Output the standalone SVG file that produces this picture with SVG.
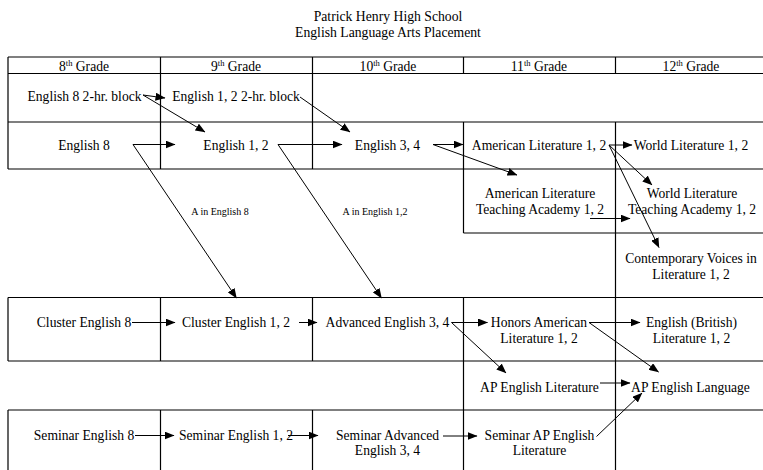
<svg xmlns="http://www.w3.org/2000/svg" width="763" height="470" viewBox="0 0 763 470">
<defs>
<style>
text{font-family:"Liberation Serif","Times New Roman",serif;font-size:13.6px;fill:#000;text-anchor:middle}
.sm{font-size:10px}
.sup{font-size:8.5px}
.grid{stroke:#000;stroke-width:1.2;fill:none}
.arr{stroke:#000;stroke-width:1;fill:none;marker-end:url(#ah)}
</style>
<marker id="ah" markerUnits="userSpaceOnUse" markerWidth="10" markerHeight="8" refX="9.5" refY="4" orient="auto">
<path d="M0,0 L10,4 L0,8 z" fill="#000"/>
</marker>
</defs>
<rect width="763" height="470" fill="#fff"/>
<g id="title">
<text x="388" y="20.5" style="font-size:13.7px">Patrick Henry High School</text>
<text x="388" y="36.5" style="font-size:13.7px">English Language Arts Placement</text>
</g>
<g id="table" class="grid">
<path d="M8,57H770M8,73.5H770M8,122H770M8,169H770M463.5,233H770M8,297.5H770M8,361H770M8,410H770"/>
<path d="M8,57V169M8,297.5V361M8,410V475M160.5,57V169M160.5,297.5V361M160.5,410V475M312.5,57V169M312.5,297.5V361M312.5,410V475M463.5,57V73.5M463.5,122V233M463.5,297.5V475M615.5,57V73.5M615.5,122V475"/>
</g>
<g id="headers">
<text x="84" y="70.5">8<tspan class="sup" dy="-5">th</tspan><tspan dy="5"> Grade</tspan></text>
<text x="236" y="70.5">9<tspan class="sup" dy="-5">th</tspan><tspan dy="5"> Grade</tspan></text>
<text x="388" y="70.5">10<tspan class="sup" dy="-5">th</tspan><tspan dy="5"> Grade</tspan></text>
<text x="539" y="70.5">11<tspan class="sup" dy="-5">th</tspan><tspan dy="5"> Grade</tspan></text>
<text x="691" y="70.5">12<tspan class="sup" dy="-5">th</tspan><tspan dy="5"> Grade</tspan></text>
</g>
<g id="eng8block"><text x="84.5" y="100.5">English 8 2-hr. block</text></g>
<g id="eng12block"><text x="236" y="100.5">English 1, 2 2-hr. block</text></g>
<g id="eng8"><text x="84" y="149.5">English 8</text></g>
<g id="eng12"><text x="236" y="149.5">English 1, 2</text></g>
<g id="eng34"><text x="387.5" y="149.5">English 3, 4</text></g>
<g id="amlit"><text x="539" y="149.5">American Literature 1, 2</text></g>
<g id="worldlit"><text x="691" y="149.5">World Literature 1, 2</text></g>
<g id="amlitta"><text x="540" y="198">American Literature</text><text x="540" y="213.5">Teaching Academy 1, 2</text></g>
<g id="worldlitta"><text x="692" y="198">World Literature</text><text x="692" y="213.5">Teaching Academy 1, 2</text></g>
<g id="contemp"><text x="691" y="263">Contemporary Voices in</text><text x="691" y="278.5">Literature 1, 2</text></g>
<g id="cluster8"><text x="84" y="327">Cluster English 8</text></g>
<g id="cluster12"><text x="236" y="327">Cluster English 1, 2</text></g>
<g id="adv34"><text x="387.5" y="327">Advanced English 3, 4</text></g>
<g id="honors"><text x="539" y="326.5">Honors American</text><text x="539" y="342.5">Literature 1, 2</text></g>
<g id="british"><text x="691.5" y="326.5">English (British)</text><text x="691.5" y="342.5">Literature 1, 2</text></g>
<g id="aplit"><text x="539.5" y="391.5">AP English Literature</text></g>
<g id="aplang"><text x="690.5" y="391.5">AP English Language</text></g>
<g id="sem8"><text x="84" y="439.5">Seminar English 8</text></g>
<g id="sem12"><text x="236" y="439.5">Seminar English 1, 2</text></g>
<g id="semadv"><text x="387.5" y="439.5">Seminar Advanced</text><text x="387.5" y="455">English 3, 4</text></g>
<g id="semap"><text x="539.5" y="439.5">Seminar AP English</text><text x="539.5" y="455">Literature</text></g>
<g id="connectors">
<path class="arr" d="M143,95 L165,98"/>
<path class="arr" d="M143,95 L205,132"/>
<path class="arr" d="M300,97 L350,132"/>
<path class="arr" d="M133,144.5 H175"/>
<path class="arr" d="M133,144.5 L236.5,298"/>
<path class="arr" d="M278,144.5 H342"/>
<path class="arr" d="M278,144.5 L381.5,298"/>
<path class="arr" d="M433,144.5 H463"/>
<path class="arr" d="M433,144.5 L517,175"/>
<path class="arr" d="M609,145 H632"/>
<path class="arr" d="M609,145 L652,185"/>
<path class="arr" d="M609,145 L659,247.5"/>
<path class="arr" d="M590,218.5 H630"/>
<path class="arr" d="M132,322.5 H175"/>
<path class="arr" d="M299,322.5 H317"/>
<path class="arr" d="M451.5,322.5 H487.5"/>
<path class="arr" d="M451.5,322.5 L506,373"/>
<path class="arr" d="M589,322.5 H640"/>
<path class="arr" d="M589,322.5 L658.5,372"/>
<path class="arr" d="M600,383 H630"/>
<path class="arr" d="M596.5,436.5 L642,393"/>
<path class="arr" d="M135,435.5 H174"/>
<path class="arr" d="M288,435.5 H318"/>
<path class="arr" d="M443,436 H477"/>
<text class="sm" x="220" y="214.5">A in English 8</text>
<text class="sm" x="375" y="214.5">A in English 1,2</text>
</g>
</svg>
